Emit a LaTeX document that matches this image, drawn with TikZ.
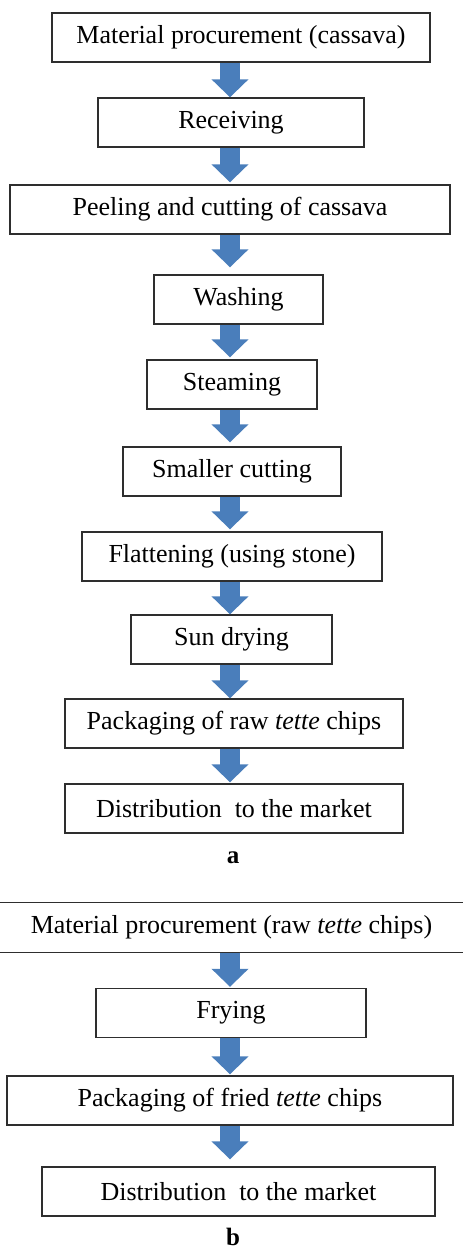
\documentclass[tikz,border=0pt]{standalone}
\usepackage{fontspec}
\setmainfont{Liberation Serif}
\usetikzlibrary{arrows.meta,calc}
\definecolor{arrowblue}{HTML}{4A7EBB}
\definecolor{boxline}{HTML}{2E2E2E}
\tikzset{
  stepbox/.style={draw=boxline, line width=1.4pt, rectangle, inner sep=0pt,
    minimum height=49pt, align=center, font=\fontsize{26}{29}\selectfont},
  flowarrow/.style={draw=arrowblue, line width=20pt,
    -{Triangle[width=36pt,length=18pt]}},
  panellabel/.style={font=\fontsize{25}{28}\selectfont\bfseries, anchor=base, inner sep=0pt}
}
\begin{document}
\begin{tikzpicture}[x=1pt,y=-1pt]
\useasboundingbox (0,0) rectangle (463,1250);
\coordinate (ax) at (230,0);
% panel a
\node[stepbox, minimum width=378pt] (m1) at (241,37.5) {Material procurement (cassava)};
\node[stepbox, minimum width=266pt] (rec) at (231,122.5) {Receiving};
\node[stepbox, minimum width=440pt] (peel) at (230,209.5) {Peeling and cutting of cassava};
\node[stepbox, minimum width=169pt] (wash) at (238.5,299.5) {Washing};
\node[stepbox, minimum width=170pt] (steam) at (232,384.5) {Steaming};
\node[stepbox, minimum width=218pt] (small) at (232,471.5) {Smaller cutting};
\node[stepbox, minimum width=300pt] (flat) at (232,556.5) {Flattening (using stone)};
\node[stepbox, minimum width=201pt] (sun) at (231.5,639.5) {Sun drying};
\node[stepbox, minimum width=338pt] (packraw) at (234,723.5) {Packaging of raw \textit{tette} chips};
\node[stepbox, minimum width=338pt] (dista) at (234,808.5) {Distribution\ \ to the market};
\node[panellabel] (la) at (233,863) {a};
\draw[flowarrow] (ax |- m1.south) -- (ax |- rec.north);
\draw[flowarrow, shorten >=2pt] (ax |- rec.south) -- (ax |- peel.north);
\draw[flowarrow, shorten >=7pt] (ax |- peel.south) -- (ax |- wash.north);
\draw[flowarrow, shorten >=2pt] (ax |- wash.south) -- (ax |- steam.north);
\draw[flowarrow, shorten >=4pt] (ax |- steam.south) -- (ax |- small.north);
\draw[flowarrow, shorten >=2pt] (ax |- small.south) -- (ax |- flat.north);
\draw[flowarrow] (ax |- flat.south) -- (ax |- sun.north);
\draw[flowarrow] (ax |- sun.south) -- (ax |- packraw.north);
\draw[flowarrow, shorten >=1pt] (ax |- packraw.south) -- (ax |- dista.north);
% panel b
\node[stepbox, draw=none, minimum width=463pt] (b1) at (231.5,927.5) {Material procurement (raw \textit{tette} chips)};
\draw[boxline, line width=1.4pt] (b1.north west) -- (b1.north east);
\draw[boxline, line width=1.4pt] (b1.south west) -- (b1.south east);
\node[stepbox, minimum width=270pt] (fry) at (231,1013) {Frying};
\node[stepbox, minimum width=446pt] (packfried) at (230,1100.5) {Packaging of fried \textit{tette} chips};
\node[stepbox, minimum width=393pt] (distb) at (238.5,1191.5) {Distribution\ \ to the market};
\node[panellabel] (lb) at (233,1245) {b};
\draw[flowarrow, shorten >=1pt] (ax |- b1.south) -- (ax |- fry.north);
\draw[flowarrow, shorten >=1pt] (ax |- fry.south) -- (ax |- packfried.north);
\draw[flowarrow, shorten >=7pt] (ax |- packfried.south) -- (ax |- distb.north);
\end{tikzpicture}
\end{document}
